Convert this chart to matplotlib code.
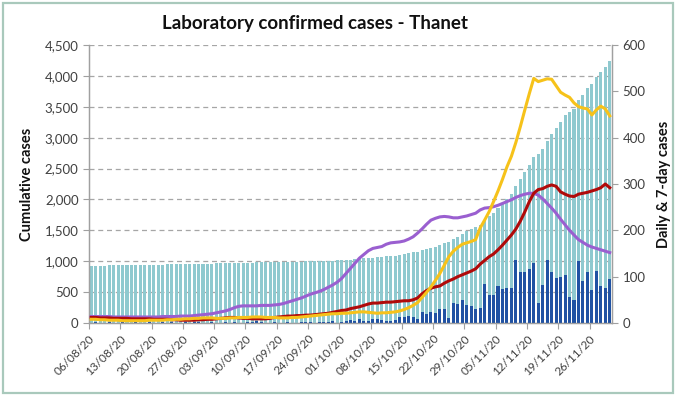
import matplotlib
matplotlib.use("Agg")
import matplotlib.pyplot as plt
from matplotlib.patches import Rectangle
from matplotlib.ticker import FuncFormatter, MultipleLocator
import numpy as np

plt.rcParams['font.family'] = ['Lato', 'DejaVu Sans']

# ---- data (06/08/20 .. 30/11/20, one value per day) ----
tick_labels = ['06/08/20', '13/08/20', '20/08/20', '27/08/20', '03/09/20', '10/09/20',
               '17/09/20', '24/09/20', '01/10/20', '08/10/20', '15/10/20', '22/10/20',
               '29/10/20', '05/11/20', '12/11/20', '19/11/20', '26/11/20']

cumulative = [925, 927, 928, 929, 931, 932, 932, 934, 935, 936, 938, 939, 940, 943, 944, 944, 946, 947, 949, 950,
              951, 953, 954, 957, 959, 960, 961, 963, 964,
              965, 967, 968, 970, 971, 972, 975, 977, 981, 983, 984, 985, 987, 987, 988, 990, 991, 992, 994, 996,
              999, 1000, 1002, 1005, 1007, 1011, 1012, 1015,
              1020, 1026, 1031, 1040, 1045, 1050, 1058, 1067, 1073, 1077, 1082, 1088, 1100, 1114, 1130, 1142, 1150,
              1174, 1193, 1217, 1238, 1268, 1298, 1309, 1353, 1395, 1445, 1483, 1519, 1549, 1581,
              1665, 1726, 1786, 1865, 1939, 2014, 2089, 2224, 2334, 2445, 2561, 2691, 2734, 2815,
              2950, 3060, 3158, 3258, 3362, 3419, 3469, 3602, 3692, 3802, 3874, 3987, 4066, 4141, 4236]

daily = [1,
         2, 1, 1, 2, 1, 0, 2, 1, 1, 2, 1, 1, 3, 1, 0, 2, 1, 2, 1, 1, 2, 1, 3, 2, 1, 1, 2, 1,
         1, 2, 1, 2, 1, 1, 3, 2, 4, 2, 1, 1, 2, 0, 1, 2, 1, 1, 2, 2, 3, 1, 2, 3, 2, 4, 1, 3,
         5, 6, 5, 9, 5, 5, 8, 9, 6, 4, 5, 6, 12, 14, 16, 12, 8, 24, 19, 24, 21, 30, 30, 11, 44, 42, 50, 38, 36, 30, 32,
         84, 61, 60, 79, 74, 75, 75, 135, 110, 111, 116, 130, 43, 81, 135, 110, 98, 100, 104, 57, 50,
         133, 90, 110, 72, 113, 79, 75, 95]

rate_thanet = [8, 8, 7, 7, 6, 6, 6, 5, 5, 5, 5,
               5, 5, 6, 6, 6, 6, 7, 7, 8, 8,
               9, 9, 10, 10, 11, 11, 11, 10, 10, 10,
               11, 11, 12, 12, 12, 13, 13, 13, 12, 12,
               12, 11, 11, 11, 12, 12, 13, 14, 15, 16,
               17, 18, 19, 20, 20, 21,
               21, 22, 23, 24, 24, 23, 22, 21, 22, 22, 23, 24, 26, 29, 33, 38, 44, 55, 66, 78,
               92, 107, 125, 143, 155, 163, 170, 173, 176, 180, 205,
               222, 240, 262, 285, 310, 337, 360, 390, 424, 460, 495, 528, 521, 524, 527, 526, 512, 498, 492, 487,
               475, 467, 464, 462, 449, 460, 468, 462, 447]

rate_red = [12, 12, 11, 11, 11, 10, 10, 10, 10, 9, 9,
            9, 9, 9, 8, 8, 8, 8, 7, 7, 6,
            6, 6, 6, 7, 7, 8, 8, 9, 10, 11,
            12, 12, 11, 10, 10, 9, 9, 9, 9, 10,
            12, 13, 14, 15, 15, 16, 16, 17, 17, 18,
            19, 20, 21, 23, 25, 27,
            28, 31, 33, 35, 38, 41, 43, 43, 44, 45, 45, 46, 47, 48, 48, 50, 54, 63, 70, 75,
            78, 80, 86, 91, 95, 100, 104, 108, 112, 117, 127,
            135, 143, 149, 158, 168, 179, 190, 203, 220, 240, 262, 280, 288, 290, 295, 298, 295, 283, 278, 274,
            273, 278, 280, 282, 285, 288, 292, 300, 292]

rate_purple = [14, 14, 14, 14, 14, 13, 13, 13, 13, 13, 13,
               13, 13, 13, 13, 13, 14, 14, 14, 14, 15,
               15, 15, 16, 17, 18, 19, 20, 22, 24, 26,
               29, 33, 36, 37, 37, 37, 37, 38, 38, 38,
               39, 40, 42, 45, 48, 51, 54, 58, 62, 65,
               68, 72, 77, 82, 88, 96,
               107, 118, 129, 140, 148, 156, 161, 163, 165, 170, 173, 174, 175, 177, 181, 186, 194, 203, 213, 222,
               226, 229, 230, 229, 227, 227, 229, 231, 234, 237, 244,
               248, 249, 251, 254, 258, 262, 266, 271, 275, 278, 280, 280, 276, 268, 258, 248, 237, 224, 212, 200,
               190, 180, 174, 168, 164, 161, 158, 155, 152]

# ---- figure ----
W, H = 678, 397
fig = plt.figure(figsize=(W / 100, H / 100), dpi=100)
ax = fig.add_axes([89 / W, 1 - 323 / H, (612 - 89) / W, (323 - 45) / H])
ax2 = ax.twinx()

x = np.arange(len(cumulative))
ax.set_axisbelow(True)
ax.grid(axis='y', linestyle=(0, (4, 3)), color='#a6a6a6', linewidth=0.9)
ax.bar(x, cumulative, width=0.68, color='#8fc9cf', zorder=2)

ax2.bar(x, daily, width=0.68, color='#2052a3', zorder=2)
ax2.plot(x, rate_purple, color='#9a5fd0', linewidth=2.2, zorder=3)
ax2.plot(x, rate_red, color='#b00a0a', linewidth=2.2, zorder=4)
ax2.plot(x, rate_thanet, color='#f6c21a', linewidth=2.2, zorder=5)

ax.set_xlim(-0.5, len(cumulative) - 0.5)
ax.set_ylim(0, 4500)
ax2.set_ylim(0, 600)
ax.yaxis.set_major_locator(MultipleLocator(500))
ax2.yaxis.set_major_locator(MultipleLocator(100))
ax.yaxis.set_major_formatter(FuncFormatter(lambda v, p: f'{int(v):,}'))

ticks = [7 * i - 0.5 for i in range(len(tick_labels))]
ax.set_xticks(ticks)
ax.set_xticklabels(tick_labels, rotation=45, ha='right', rotation_mode='anchor',
                   fontsize=8.5, color='#404040')

for a in (ax, ax2):
    for s in a.spines.values():
        s.set_color('#a0a0a0')
        s.set_linewidth(0.9)
    a.spines['top'].set_visible(False)
    a.tick_params(axis='both', colors='#a0a0a0', labelcolor='#404040', labelsize=9.5,
                  length=4, width=0.8, direction='out')
ax.tick_params(axis='x', labelsize=8.5, pad=3)

ax.set_ylabel('Cumulative cases', fontsize=10.5, fontweight='bold', color='#111111', labelpad=8)
ax2.set_ylabel('Daily & 7-day cases', fontsize=10.5, fontweight='bold', color='#111111', labelpad=8)

fig.text(315 / W, 1 - 24 / H, 'Laboratory confirmed cases - Thanet', ha='center', va='center',
         fontsize=13.5, fontweight='bold', color='#111111')

fig.patches.append(Rectangle((3 / W, 4 / H), (673 - 3) / W, (394 - 4) / H, transform=fig.transFigure,
                             fill=False, edgecolor='#a9c9bc', linewidth=1.6))

fig.savefig('out.png', dpi=100)
